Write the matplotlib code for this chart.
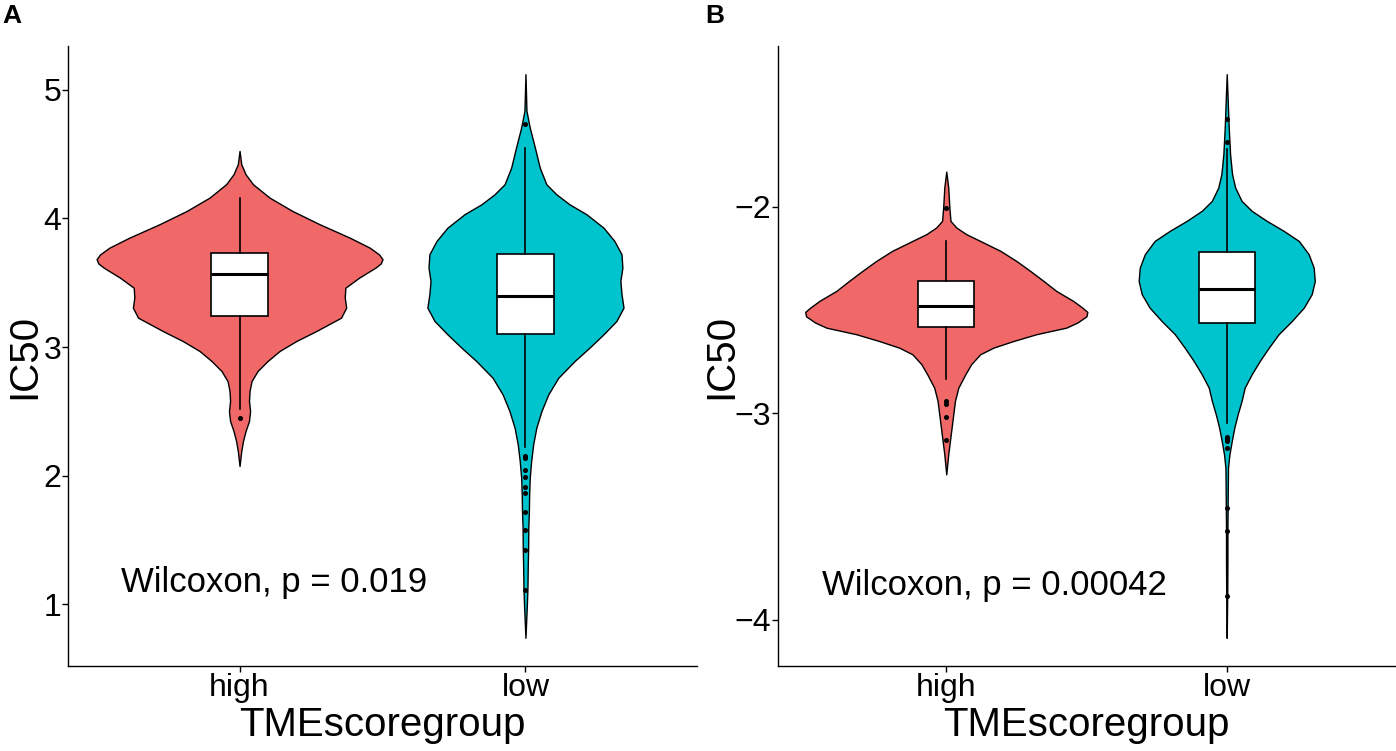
import matplotlib
matplotlib.use("Agg")
import matplotlib.pyplot as plt
import numpy as np

plt.rcParams['font.family'] = ['Liberation Sans', 'DejaVu Sans']

# ---------------- data ----------------
groups = ["high", "low"]
x_title = "TMEscoregroup"
y_title = "IC50"

# Panel A violin profiles: value, half-width (x units)
A_high_y = [4.525, 4.422, 4.344, 4.266, 4.162, 4.058, 3.955, 3.851, 3.773, 3.720, 3.683,
            3.650, 3.617, 3.539, 3.461, 3.384, 3.306, 3.228, 3.125, 3.047, 2.969, 2.891,
            2.813, 2.735, 2.658, 2.580, 2.502, 2.424, 2.346, 2.268, 2.191, 2.074]
A_high_w = [0.0, 0.006, 0.021, 0.047, 0.105, 0.185, 0.280, 0.385, 0.455, 0.488, 0.500,
            0.494, 0.475, 0.418, 0.370, 0.368, 0.373, 0.355, 0.269, 0.199, 0.140, 0.098,
            0.063, 0.042, 0.035, 0.033, 0.037, 0.033, 0.021, 0.012, 0.006, 0.0]

A_low_y = [5.122, 4.837, 4.707, 4.551, 4.395, 4.266, 4.188, 4.110, 4.033, 3.928,
           3.825, 3.721, 3.617, 3.514, 3.410, 3.306, 3.202, 3.099, 2.995, 2.891,
           2.761, 2.632, 2.502, 2.372, 2.243, 2.113, 1.983, 1.854, 1.724, 1.594,
           1.438, 1.283, 1.127, 0.971, 0.738]
A_low_w = [0.0, 0.0035, 0.015, 0.033, 0.050, 0.073, 0.108, 0.154, 0.213, 0.273,
           0.311, 0.336, 0.339, 0.332, 0.336, 0.343, 0.318, 0.273, 0.224, 0.172,
           0.115, 0.080, 0.056, 0.038, 0.027, 0.020, 0.015, 0.013, 0.012, 0.010,
           0.0094, 0.008, 0.007, 0.0045, 0.0]

# Panel B violin profiles
B_high_y = [-1.829, -1.906, -2.003, -2.068, -2.100, -2.132, -2.165, -2.213, -2.262, -2.310,
            -2.358, -2.407, -2.456, -2.488, -2.509, -2.530, -2.560, -2.585, -2.617, -2.650,
            -2.682, -2.714, -2.762, -2.811, -2.876, -2.940, -3.005, -3.070, -3.134, -3.199,
            -3.296]
B_high_w = [0.0, 0.007, 0.011, 0.015, 0.036, 0.071, 0.121, 0.193, 0.250, 0.299,
            0.346, 0.392, 0.453, 0.485, 0.503, 0.500, 0.468, 0.428, 0.321, 0.239,
            0.168, 0.121, 0.089, 0.068, 0.043, 0.031, 0.025, 0.019, 0.013, 0.007,
            0.0]

B_low_y = [-1.357, -1.486, -1.616, -1.745, -1.841, -1.906, -1.971, -2.019, -2.068, -2.116,
           -2.165, -2.229, -2.294, -2.359, -2.423, -2.488, -2.553, -2.617, -2.682, -2.746,
           -2.811, -2.876, -2.940, -3.005, -3.070, -3.134, -3.199, -3.264, -3.393, -3.555,
           -3.716, -3.877, -4.088]
B_low_w = [0.0, 0.0036, 0.0071, 0.012, 0.019, 0.030, 0.053, 0.089, 0.143, 0.203,
           0.257, 0.292, 0.310, 0.314, 0.303, 0.275, 0.232, 0.185, 0.150, 0.118,
           0.089, 0.064, 0.053, 0.039, 0.027, 0.018, 0.0096, 0.0046, 0.0036, 0.0025,
           0.0025, 0.0018, 0.0]

# Box statistics: whislo, q1, med, q3, whishi, fliers
A_high_box = dict(whislo=2.515, q1=3.241, med=3.571, q3=3.734, whishi=4.162)
A_high_fliers = [2.445]
A_low_box = dict(whislo=2.222, q1=3.104, med=3.394, q3=3.721, whishi=4.546)
A_low_fliers = [4.733, 2.152, 2.134, 2.043, 1.991, 1.913, 1.862, 1.719, 1.574, 1.423, 1.107]
B_high_box = dict(whislo=-2.835, q1=-2.580, med=-2.481, q3=-2.359, whishi=-2.165)
B_high_fliers = [-2.003, -2.940, -2.953, -3.018, -3.129]
B_low_box = dict(whislo=-3.046, q1=-2.564, med=-2.399, q3=-2.221, whishi=-1.720)
B_low_fliers = [-1.572, -1.688, -3.115, -3.125, -3.134, -3.170, -3.459, -3.569, -3.885]

A_yticks = [1, 2, 3, 4, 5]
B_yticks = [-4, -3, -2]
A_label = "Wilcoxon, p = 0.019"
B_label = "Wilcoxon, p = 0.00042"
A_label_pos = (0.585, 1.097)
B_label_pos = (0.558, -3.880)

colors = ["#F06868", "#00C4CD"]

# ---------------- plotting ----------------
W, H = 1396, 751
fig = plt.figure(figsize=(W / 100, H / 100), dpi=100)
axA = fig.add_axes([68 / W, 85 / H, 629 / W, 620 / H])
axB = fig.add_axes([778 / W, 85 / H, 617 / W, 620 / H])


def draw_panel(ax, profiles, boxes, fliers, yticks, label, label_pos, ylab_x):
    allv = []
    for i, ((yv, wv), col) in enumerate(zip(profiles, colors)):
        pos = i + 1
        yv = np.asarray(yv)
        wv = np.asarray(wv)
        allv.extend(yv)
        ax.fill_betweenx(yv, pos - wv, pos + wv, facecolor=col, edgecolor='black',
                         linewidth=1.0, zorder=1)
    stats = []
    for b, f in zip(boxes, fliers):
        s = dict(b)
        s['fliers'] = f
        stats.append(s)
    ax.bxp(stats, positions=[1, 2], widths=0.2, patch_artist=True, showcaps=False,
           boxprops=dict(facecolor='white', edgecolor='black', linewidth=1.2),
           medianprops=dict(color='black', linewidth=2.2),
           whiskerprops=dict(color='black', linewidth=1.2),
           flierprops=dict(marker='o', markerfacecolor='black', markeredgecolor='black',
                           markersize=2.6, linestyle='none'),
           zorder=3)
    lo, hi = min(allv), max(allv)
    r = hi - lo
    ax.set_ylim(lo - 0.05 * r, hi + 0.05 * r)
    ax.set_xlim(0.4, 2.6)
    ax.set_xticks([1, 2])
    ax.set_xticklabels(groups)
    ax.set_yticks(yticks)
    ax.set_yticklabels([f"{t}".replace('-', '\u2212') for t in yticks])
    for sp in ['top', 'right']:
        ax.spines[sp].set_visible(False)
    for sp in ['left', 'bottom']:
        ax.spines[sp].set_linewidth(1.0)
        ax.spines[sp].set_color('black')
    ax.tick_params(axis='both', direction='out', length=4, width=1.0, colors='black',
                   labelsize=23)
    ax.tick_params(axis='x', pad=1)
    ax.tick_params(axis='y', pad=1)
    ax.set_xlabel(x_title, fontsize=29, labelpad=2)
    ax.set_ylabel(y_title, fontsize=29)
    ax.yaxis.set_label_coords(ylab_x, 0.5)
    ax.text(label_pos[0], label_pos[1], label, fontsize=25, ha='left', va='baseline')


draw_panel(axA, [(A_high_y, A_high_w), (A_low_y, A_low_w)],
           [A_high_box, A_low_box], [A_high_fliers, A_low_fliers],
           A_yticks, A_label, A_label_pos, (43 - 68) / 629)
draw_panel(axB, [(B_high_y, B_high_w), (B_low_y, B_low_w)],
           [B_high_box, B_low_box], [B_high_fliers, B_low_fliers],
           B_yticks, B_label, B_label_pos, (740 - 778) / 617)

fig.text(2 / W, 1 - 16 / H, "A", fontsize=19, fontweight='bold', ha='left', va='center')
fig.text(705 / W, 1 - 16 / H, "B", fontsize=19, fontweight='bold', ha='left', va='center')

fig.savefig("out.png", dpi=100)
